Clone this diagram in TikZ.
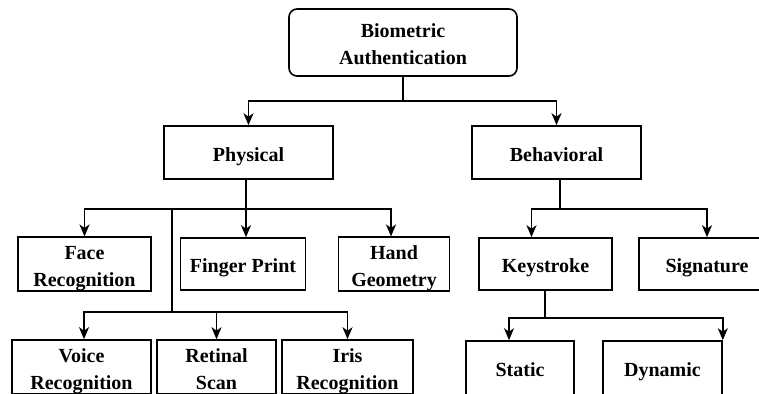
\documentclass[tikz,border=0pt]{standalone}
\usepackage{fontspec}
\setmainfont{Liberation Serif}
\usepackage{tikz}
\usetikzlibrary{arrows.meta, positioning, calc}

\newcommand{\upstrut}{\rule[-4.5pt]{0pt}{26.5pt}}
\newcommand{\downstrut}{\rule[-4.5pt]{0pt}{4.5pt}}

\begin{document}
\begin{tikzpicture}[x=1pt, y=-1pt,
    box/.style={draw, line width=1.6pt, align=center, inner sep=0pt,
      font=\fontsize{20}{27}\selectfont\bfseries},
    link/.style={line width=1.6pt},
    arr/.style={line width=1.6pt, -{Stealth[length=12pt, width=10pt, inset=3.5pt]}}]
      \useasboundingbox (0,0) rectangle (759,393);
      \clip (0,0) rectangle (759,393);

      % top level
      \node[box, rounded corners=8pt, minimum width=228pt, minimum height=67pt] (bio) at (403,42.5) {\upstrut Biometric\\Authentication\downstrut};
      \node[box, minimum width=169pt, minimum height=53pt] (phys) at (248.5,152.5) {\upstrut Physical};
      \node[box, minimum width=169pt, minimum height=53pt] (behav) at (556.5,152.5) {\upstrut Behavioral};

      % physical traits
      \node[box, minimum width=133pt, minimum height=52pt] (face) at (84.5,264) {\upstrut Face\\Recognition\downstrut};
      \node[box, minimum width=125pt, minimum height=52pt] (finger) at (243,264) {\upstrut Finger Print};
      \node[box, minimum width=111pt, minimum height=52pt] (hand) at (394,264) {\upstrut Hand\\Geometry\downstrut};
      \node[box, minimum width=139pt, minimum height=54pt] (voice) at (81.5,367) {\upstrut Voice\\Recognition\downstrut};
      \node[box, minimum width=119pt, minimum height=54pt] (retinal) at (216.5,367) {\upstrut Retinal\\Scan\downstrut};
      \node[box, minimum width=131pt, minimum height=54pt] (iris) at (347.5,367) {\upstrut Iris\\Recognition\downstrut};

      % behavioral traits
      \node[box, minimum width=133pt, minimum height=52pt] (keys) at (545.5,264) {\upstrut Keystroke};
      \node[box, minimum width=136pt, minimum height=52pt] (sign) at (707,264) {\upstrut Signature};
      \node[box, minimum width=108pt, minimum height=54pt] (static) at (520,368) {\upstrut Static};
      \node[box, minimum width=119pt, minimum height=54pt] (dynamic) at (662.5,368) {\upstrut Dynamic};

      % junctions
      \coordinate (jbio) at (403,101);
      \coordinate (jphys) at (246,209);
      \coordinate (jsplit) at (172,209);
      \coordinate (jlow) at (172,312);
      \coordinate (jbehav) at (560,209);
      \coordinate (jkeys) at (545,318);

      \draw[link] (bio.south) -- (jbio);
      \draw[arr] (jbio) -| (phys.north);
      \draw[arr] (jbio) -| (behav.north);

      \draw[link] (phys.south -| jphys) -- (jphys);
      \draw[arr] (jphys) -| (face.north);
      \draw[arr] (jphys) -- (finger.north -| jphys);
      \draw[arr] (jphys) -| ([xshift=-3pt]hand.north);
      \draw[link] (jsplit) -- (jlow);
      \draw[arr] (jlow) -| ([xshift=2.5pt]voice.north);
      \draw[arr] (jlow) -| (retinal.north);
      \draw[arr] (jlow) -| (iris.north);

      \draw[link] (behav.south -| jbehav) -- (jbehav);
      \draw[arr] (jbehav) -| ([xshift=-14pt]keys.north);
      \draw[arr] (jbehav) -| (sign.north);
      \draw[link] (keys.south -| jkeys) -- (jkeys);
      \draw[arr] (jkeys) -| ([xshift=-11pt]static.north);
      \draw[arr] (jkeys) -| (dynamic.north east);
    \end{tikzpicture}
\end{document}
